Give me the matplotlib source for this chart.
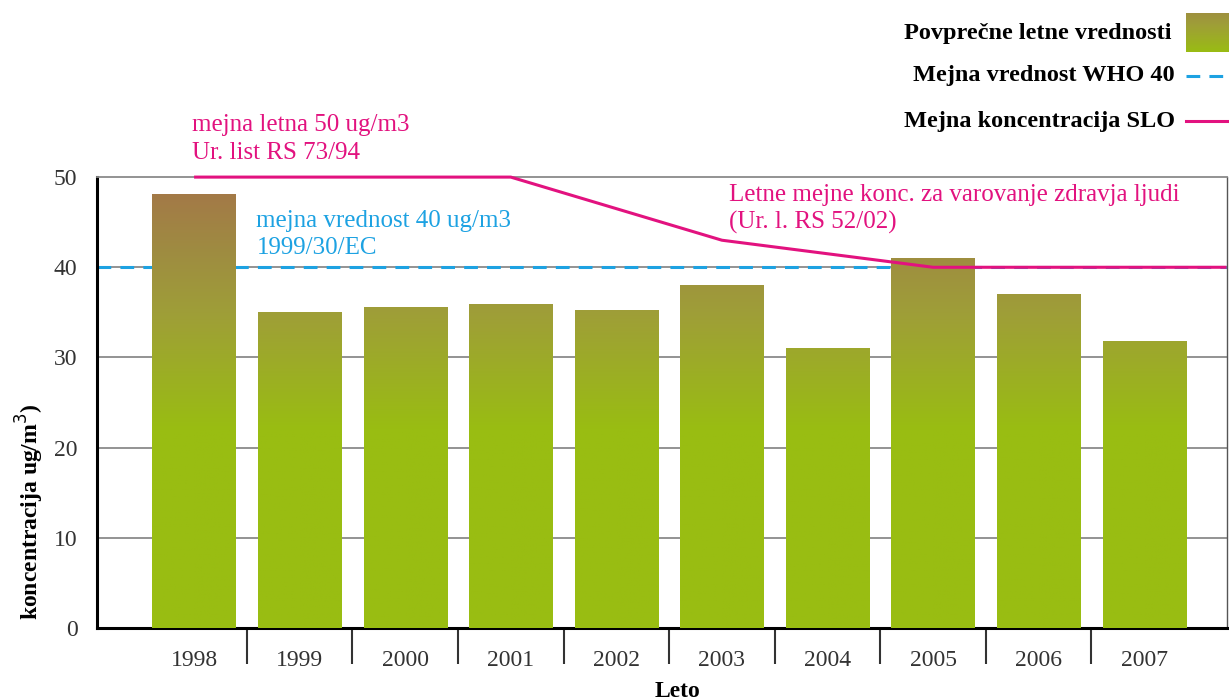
import numpy as np
import matplotlib
matplotlib.use("Agg")
import matplotlib.pyplot as plt
from matplotlib.colors import LinearSegmentedColormap

# podatki
leta = ['1998', '1999', '2000', '2001', '2002', '2003', '2004', '2005', '2006', '2007']
povprecje = [48.1, 35.0, 35.6, 35.9, 35.3, 38.0, 31.0, 41.0, 37.0, 31.8]
who_meja = 40
slo_leta = ['1998', '2001', '2003', '2005']
slo_meja = [50, 50, 43, 40]

plt.rcParams['font.family'] = ['Liberation Serif', 'DejaVu Serif']

pink = '#e2127f'
blue = '#1da2e2'
green = '#99bd12'

cmap = LinearSegmentedColormap.from_list(
    'bar', [(0.0, green), (0.44, green), (0.70, '#9f9e38'), (0.82, '#9e8e40'),
            (0.96, '#a37a47'), (1.0, '#a5754a')])

fig = plt.figure(figsize=(12.29, 7), dpi=100)
ax = fig.add_axes([0.0789, 0.1029, 0.9191, 0.6441])

x = np.arange(len(leta))
xmax = 9.78
ax.set_xlim(-0.92, xmax)
ax.set_ylim(0, 50)

# mreza
for v in [10, 20, 30, 40]:
    ax.axhline(v, color='#8a8a8a', lw=1.3, zorder=1)

# WHO meja
ax.axhline(who_meja, color=blue, lw=2.2, ls=(0, (4.5, 3)), zorder=2)

# stolpci z gradientom
bars = ax.bar(x, povprecje, width=0.79, color='none', edgecolor='none', zorder=3)
grad = np.linspace(0, 1, 256).reshape(-1, 1)
for b in bars:
    im = ax.imshow(grad, cmap=cmap, origin='lower', aspect='auto',
                   extent=[b.get_x(), b.get_x() + b.get_width(), 0, 50],
                   vmin=0, vmax=1, zorder=3)
    im.set_clip_path(b)

# SLO meja
sx = [leta.index(l) for l in slo_leta] + [xmax]
sy = slo_meja + [slo_meja[-1]]
ax.plot(sx, sy, color=pink, lw=2.2, zorder=5, clip_on=False, solid_capstyle='butt')

# osi
ax.spines['left'].set_color('black')
ax.spines['left'].set_linewidth(2.2)
ax.spines['bottom'].set_color('black')
ax.spines['bottom'].set_linewidth(2.2)
ax.spines['top'].set_color('#8a8a8a')
ax.spines['top'].set_linewidth(1.3)
ax.spines['right'].set_color('#555555')
ax.spines['right'].set_linewidth(1.0)

ax.set_yticks([0, 10, 20, 30, 40, 50])
ax.tick_params(axis='y', length=0, pad=14, labelsize=17, labelcolor='#333333')
ax.set_xticks(x)
ax.set_xticklabels(leta)
ax.tick_params(axis='x', which='major', length=0, pad=16, labelsize=17, labelcolor='#333333')
ax.set_xticks(x[:-1] + 0.5, minor=True)
ax.tick_params(axis='x', which='minor', length=26, width=1.5, color='#333333', direction='out')

# napisi
ax.text(-0.02, 51.5, 'mejna letna 50 ug/m3\nUr. list RS 73/94', color=pink,
        fontsize=18, va='bottom', ha='left', linespacing=1.3)
ax.text(0.59, 40.9, 'mejna vrednost 40 ug/m3\n1999/30/EC', color=blue,
        fontsize=18, va='bottom', ha='left', linespacing=1.3)
ax.text(5.07, 43.7, 'Letne mejne konc. za varovanje zdravja ljudi\n(Ur. l. RS 52/02)',
        color=pink, fontsize=18, va='bottom', ha='left', linespacing=1.3)

fig.text(30 / 1229, 1 - 512 / 700, 'koncentracija ug/m$^3$)', rotation=90,
         fontsize=17, fontweight='bold', ha='center', va='center')
fig.text(677 / 1229, 1 - 681 / 700, 'Leto', fontsize=17, fontweight='bold',
         ha='center', va='top')

# legenda
W, H = 1229, 700
fig.text(1172 / W, 1 - 33 / H, 'Povprečne letne vrednosti', fontsize=17.5,
         fontweight='bold', ha='right', va='center')
fig.text(1175 / W, 1 - 76 / H, 'Mejna vrednost WHO 40', fontsize=17.5,
         fontweight='bold', ha='right', va='center')
fig.text(1175 / W, 1 - 121 / H, 'Mejna koncentracija SLO', fontsize=17.5,
         fontweight='bold', ha='right', va='center')

lax = fig.add_axes([1186 / W, 1 - 52 / H, 43 / W, 39 / H])
lax.imshow(np.linspace(0.45, 0.8, 64).reshape(-1, 1), cmap=cmap, origin='lower',
           aspect='auto', vmin=0, vmax=1)
lax.axis('off')
fig.add_artist(plt.Line2D([1186 / W, 1229 / W], [1 - 76 / H, 1 - 76 / H],
                          color=blue, lw=2.2, ls=(0, (4.5, 3))))
fig.add_artist(plt.Line2D([1186 / W, 1229 / W], [1 - 121 / H, 1 - 121 / H],
                          color=pink, lw=2.2))

plt.savefig('out.png', dpi=100)
